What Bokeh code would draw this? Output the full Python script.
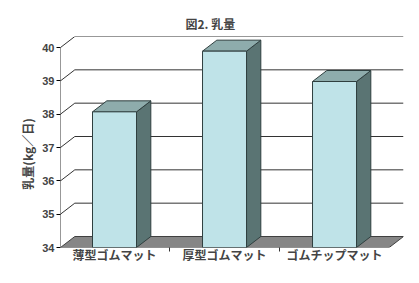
from bokeh.plotting import figure
from bokeh.models import Range1d, FixedTicker
from bokeh.embed import file_html
from bokeh.resources import INLINE

categories = ["薄型ゴムマット", "厚型ゴムマット", "ゴムチップマット"]
values = [38.07, 39.89, 38.98]
y_ticks = [34, 35, 36, 37, 38, 39, 40]
y_label = "乳量(kg／日)"

FONT = "Noto Sans CJK JP"
X0, X1 = -0.491, 2.627
Y0, Y1 = 34, 40.33
DX, DY = 0.13, 0.33
HW = 0.2

p = figure(width=419, height=283, output_backend="svg", toolbar_location=None,
           x_range=Range1d(X0, X1), y_range=Range1d(Y0, Y1),
           min_border_left=60, min_border_right=16, min_border_top=36, min_border_bottom=36)
p.outline_line_color = None
p.xgrid.visible = False
p.ygrid.visible = False
p.background_fill_color = "white"
p.border_fill_color = "white"

p.title.text = "図2. 乳量"
p.title.text_font = FONT
p.title.text_font_size = "12px"
p.title.text_font_style = "bold"
p.title.align = "left"
p.title.offset = 125
p.title.standoff = 10

# back wall gridlines and diagonals
for t in y_ticks[1:]:
    p.line([X0, X0 + DX, X1], [t, t + DY, t + DY], line_color="#333333", line_width=1)

# floor
fx = [X0, X1 - DX, X1, X0 + DX]
fy = [Y0, Y0, Y0 + DY, Y0 + DY]
p.patch(fx, fy, fill_color="#868686", line_color="#404040", line_width=1)

# front axis line
p.line([X0, X0], [Y0, 40], line_color="#333333", line_width=1)

# bars
for i, v in enumerate(values):
    l, r = i - HW, i + HW
    p.patch([r, r, r + DX, r + DX], [Y0, v, v + DY, Y0 + DY],
            fill_color="#5A7473", line_color="#2F3F3F", line_width=1)
    p.patch([l, r, r + DX, l + DX], [v, v, v + DY, v + DY],
            fill_color="#8EACAC", line_color="#2F3F3F", line_width=1)
    p.quad(left=l, right=r, bottom=Y0, top=v,
           fill_color="#BFE3E8", line_color="#2F3F3F", line_width=1)

# axes
p.yaxis.ticker = FixedTicker(ticks=y_ticks)
p.yaxis.axis_line_color = None
p.yaxis.major_tick_out = 4
p.yaxis.major_tick_in = 0
p.yaxis.minor_tick_line_color = None
p.yaxis.major_label_text_font = "Liberation Sans"
p.yaxis.major_label_text_font_style = "bold"
p.yaxis.major_label_text_font_size = "11px"
p.yaxis.major_label_standoff = 2
p.yaxis.axis_label = y_label + "\u3000\u3000"
p.yaxis.axis_label_text_font = FONT
p.yaxis.axis_label_text_font_style = "bold"
p.yaxis.axis_label_text_font_size = "12px"
p.yaxis.axis_label_standoff = 3

p.xaxis.ticker = FixedTicker(ticks=[0, 1, 2], minor_ticks=[0.5, 1.5])
p.xaxis.major_label_overrides = {0: categories[0], 1: categories[1], 2: categories[2]}
p.xaxis.axis_line_color = None
p.xaxis.major_tick_line_color = None
p.xaxis.minor_tick_out = 4
p.xaxis.minor_tick_in = 0
p.xaxis.minor_tick_line_color = "#333333"
p.xaxis.major_label_text_font = FONT
p.xaxis.major_label_text_font_style = "bold"
p.xaxis.major_label_text_font_size = "12px"
p.xaxis.major_label_standoff = -8

open("out.html", "w").write(file_html(p, INLINE))
